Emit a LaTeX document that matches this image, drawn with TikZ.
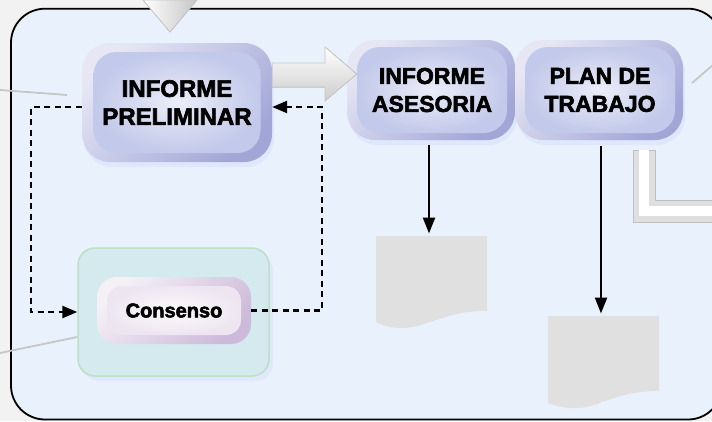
\documentclass[tikz,border=0pt]{standalone}
\usepackage{fontspec}
\setmainfont{Liberation Sans}
\newfontfamily\heavyfont{Liberation Sans Bold}[FakeBold=2.6]
\usetikzlibrary{calc,arrows.meta,shadows}
\definecolor{bgout}{HTML}{F2F2F2}
\definecolor{panel}{HTML}{E9F2FC}
\definecolor{boxTL}{HTML}{E6E6F4}
\definecolor{boxBR}{HTML}{A2A6D6}
\definecolor{inC}{HTML}{EBEDF8}
\definecolor{inE}{HTML}{C2C9EA}
\definecolor{grnfill}{HTML}{D5EAEF}
\definecolor{grnline}{HTML}{BCE0C6}
\definecolor{conTL}{HTML}{F4F0F6}
\definecolor{conBR}{HTML}{CDB9DA}
\definecolor{conC}{HTML}{FBFAFC}
\definecolor{conE}{HTML}{EDE6F1}
\definecolor{docfill}{HTML}{E0E0E0}
\definecolor{thinline}{HTML}{C6C6C6}
\begin{document}
\begin{tikzpicture}[x=1pt,y=-1pt,
  procouter/.style={draw=none, rounded corners=28pt, top color=boxTL, bottom color=boxBR, shading angle=45, inner sep=0pt,
    drop shadow={opacity=0.12, shadow xshift=2pt, shadow yshift=-5pt, fill=blue!40}},
  procinner/.style={rounded corners=23pt, inner color=inC, outer color=inE, inner sep=0pt, align=center,
    font=\heavyfont\fontsize{23}{28}\selectfont},
  greenbox/.style={draw=grnline, line width=1.5pt, fill=grnfill, rounded corners=17pt, inner sep=0pt,
    drop shadow={opacity=0.10, shadow xshift=4pt, shadow yshift=-5pt, fill=blue!40}},
  conouter/.style={rounded corners=20pt, top color=conTL, bottom color=conBR, shading angle=45, inner sep=0pt},
  coninner/.style={rounded corners=15pt, inner color=conC, outer color=conE, inner sep=0pt,
    font=\heavyfont\fontsize{20}{24}\selectfont},
  dashflow/.style={line width=2.5pt, dash pattern=on 6pt off 4.5pt, -{Triangle[length=15pt,width=12pt]}},
  flow/.style={line width=2.4pt, -{Triangle[length=16pt,width=12pt]}},
  bigarrow/.style={draw=gray!45, line width=0.8pt, top color=white, bottom color=gray!40},
  greyline/.style={draw=thinline, line width=1.8pt},
  docshape/.style={fill=docfill}
]
\useasboundingbox (0,0) rectangle (712,421);
\fill[bgout] (0,0) rectangle (712,421);
% panel
\draw[line width=1.8pt, fill=panel, rounded corners=34pt] (11,8.7) rectangle (722,419.5);

% top incoming arrow
\coordinate (topA) at (143,0);
\coordinate (topB) at (197,0);
\coordinate (topTip) at (170,32);
\filldraw[draw=gray!45, line width=0.8pt, left color=white, right color=gray!45] (topA) -- (topB) -- (topTip) -- cycle;

% thin grey lines
\coordinate (gl1a) at (0,90); \coordinate (gl1b) at (67,95);
\draw[greyline] (gl1a) -- (gl1b);
\coordinate (gl3a) at (692,83); \coordinate (gl3b) at (713,65);
\draw[greyline] (gl3a) -- (gl3b);

% process nodes
\node[procouter, minimum width=190pt, minimum height=119pt] (prelim) at (177,102.5) {};
\node[procinner, minimum width=167pt, minimum height=101pt, font=\heavyfont\fontsize{24}{28}\selectfont] (prelimIn) at (prelim.center) {INFORME\\PRELIMINAR};

\node[procouter, minimum width=168pt, minimum height=100pt] (asesoria) at (431,90) {};
\node[procinner, minimum width=150pt, minimum height=86pt] (asesoriaIn) at ($(asesoria.center)+(1,0)$) {INFORME\\ASESORIA};

\node[procouter, minimum width=168pt, minimum height=100pt] (plan) at (599,90) {};
\node[procinner, minimum width=150pt, minimum height=86pt] (planIn) at ($(plan.center)+(1,0)$) {PLAN DE\\TRABAJO};

% big arrow prelim -> asesoria
\coordinate (bigTip) at ($(asesoria.west)+(10,-16)$);
\filldraw[bigarrow] (prelim.east |- 0,63) -- (325,63) -- (325,47) -- (bigTip) -- (325,101) -- (325,87) -- (prelim.east |- 0,87) -- cycle;

% bent outgoing pipe under plan
\coordinate (pipeTop) at (644,150);
\coordinate (pipeCorner) at (644,211);
\coordinate (pipeEnd) at (716,211);
\filldraw[fill=gray!25, draw=gray!50, line width=0.8pt] (633,150) -- (655,150) -- (655,200) -- (716,200) -- (716,222) -- (633,222) -- cycle;
\draw[white, line width=10pt] (pipeTop) -- (pipeCorner) -- (pipeEnd);

% green group with consenso
\node[greenbox, minimum width=191pt, minimum height=128pt] (green) at (173.5,312) {};
\node[conouter, minimum width=154pt, minimum height=67pt] (consenso) at (174,310.5) {};
\node[coninner, minimum width=134pt, minimum height=49pt] (consensoIn) at (consenso.center) {Consenso};

\coordinate (gl2a) at (0,353);
\draw[greyline] (gl2a) -- (green.west |- 0,337);

% dashed feedback loop
\coordinate (dl) at (31,312);
\coordinate (dr) at (322,107);
\draw[dashflow] ($(prelim.west)+(0,4.5)$) -| (dl) -- (green.west);
\draw[dashflow] (consenso.east) -| (dr) -- ($(prelim.east)+(0,4.5)$);

% documents
\fill[docshape] (376,236) -- (487,236) -- (487,311) .. controls (462,311) and (448,316) .. (430,322) .. controls (410,330) and (392,330) .. (376,322) -- cycle;
\fill[docshape] (548,316) -- (659,316) -- (659,391) .. controls (634,391) and (620,396) .. (602,402) .. controls (585,410) and (565,410) .. (548,403) -- cycle;
\coordinate (doc1) at (429,233.5);
\coordinate (doc2) at (601,313.5);

\draw[flow, shorten <=5pt] (asesoria.south -| doc1) -- (doc1);
\draw[flow, shorten <=6pt] (plan.south -| doc2) -- (doc2);
\end{tikzpicture}
\end{document}
